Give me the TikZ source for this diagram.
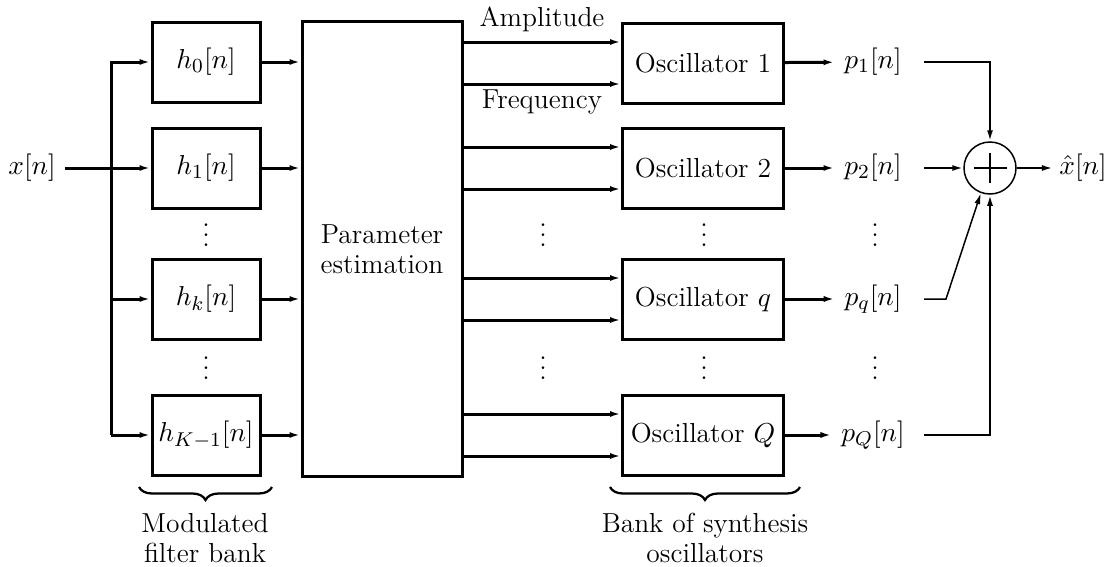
\documentclass[tikz,border=0pt]{standalone}
\usepackage{amssymb}
\usetikzlibrary{arrows.meta,decorations.pathreplacing}

\begin{document}
\begin{tikzpicture}[x=0.4pt,y=-0.4pt,font=\fontsize{11}{12}\selectfont,
  line width=1.2pt, >={Latex[length=4.4pt,width=2.4pt]},
  block/.style={draw, line width=1.2pt, minimum height=32pt, inner sep=1pt},
  filt/.style={block, minimum width=43.2pt},
  osc/.style={block, minimum width=64.4pt},
  dots/.style={inner sep=0pt},
  brc/.style={decorate, decoration={brace, mirror, amplitude=5.2pt}, line width=0.9pt}]
\useasboundingbox (0,0) rectangle (1114,567);

% filter bank
\node (x) at (32,168) {$x[n]$};
\coordinate (bus) at (111,0);
\node[filt] (h0) at (206,62) {$h_0[n]$};
\node[filt] (h1) at (206,168) {$h_1[n]$};
\node[filt] (hk) at (206,299) {$h_k[n]$};
\node[filt] (hK) at (206,435) {$h_{K-1}[n]$};
\node[dots] (fd1) at (206,228) {$\vdots$};
\node[dots] (fd2) at (206,361) {$\vdots$};

\node[block, minimum width=64pt, minimum height=181.6pt, align=center] (par) at (382,249) {Parameter\\estimation};

% oscillators
\node[osc] (o1) at (703,63) {Oscillator 1};
\node[osc] (o2) at (703,168) {Oscillator 2};
\node[osc] (oq) at (703,299) {Oscillator $q$};
\node[osc] (oQ) at (703,435) {Oscillator $Q$};
\node[dots] (ad1) at (543,228) {$\vdots$};
\node[dots] (ad2) at (543,361) {$\vdots$};
\node[dots] (od1) at (704,228) {$\vdots$};
\node[dots] (od2) at (704,361) {$\vdots$};

\node (p1) at (873,62) {$p_1[n]$};
\node (p2) at (873,168) {$p_2[n]$};
\node (pq) at (873,299) {$p_q[n]$};
\node (pQ) at (873,435) {$p_Q[n]$};
\node[dots] (pd1) at (875,228) {$\vdots$};
\node[dots] (pd2) at (875,361) {$\vdots$};

\node[draw, circle, line width=0.6pt, minimum size=20.8pt, inner sep=0pt] (sum) at (990,168) {};
\draw[line width=0.8pt] ([xshift=-6.6pt]sum.center) -- ([xshift=6.6pt]sum.center);
\draw[line width=0.8pt] ([yshift=-6pt]sum.center) -- ([yshift=6pt]sum.center);
\node[inner sep=1pt] (xh) at (1083,168) {$\hat{x}[n]$};

% connections
\draw[->] (x) -- (h1);
\draw[->] (bus |- hK) -- (bus |- h0) -- (h0);
\draw[->] (bus |- hk) -- (hk);
\draw[->] (bus |- hK) -- (hK);
\foreach \f in {h0,h1,hk,hK}
  \draw[->] (\f) -- (\f -| par.west);

\foreach \o/\p in {o1/p1,o2/p2,oq/pq,oQ/pQ} {
  \path ([yshift=8.4pt]\o.west) coordinate (\o a);
  \path ([yshift=-8.4pt]\o.west) coordinate (\o f);
  \draw[->] (\o a -| par.east) -- (\o a);
  \draw[->] (\o f -| par.east) -- (\o f);
  \draw[->] (\o) -- (\p);
}
\node[above] (amp) at (542,42) {Amplitude};
\node[below, inner sep=2pt] (frq) at (542,83) {Frequency};

\coordinate (tap) at (924,0);
\draw[line width=0.8pt,->] (p1 -| tap) -| (sum.north);
\draw[line width=0.8pt,->] (p2 -| tap) -- (sum.west);
\draw[line width=0.6pt,->] (pq -| tap) -- ++(22,0) -- (sum.-110);
\draw[line width=0.8pt,->] (pQ -| tap) -| (sum.south);
\draw[line width=0.8pt,->] (sum) -- ([xshift=-1pt]xh.west);

% braces
\draw[brc] (139,487) -- (272,487);
\node[align=center] (fblab) at (205,538) {Modulated\\filter bank};
\draw[brc] (610,487) -- (800,487);
\node[align=center] (oblab) at (705,538) {Bank of synthesis\\oscillators};
\end{tikzpicture}
\end{document}
